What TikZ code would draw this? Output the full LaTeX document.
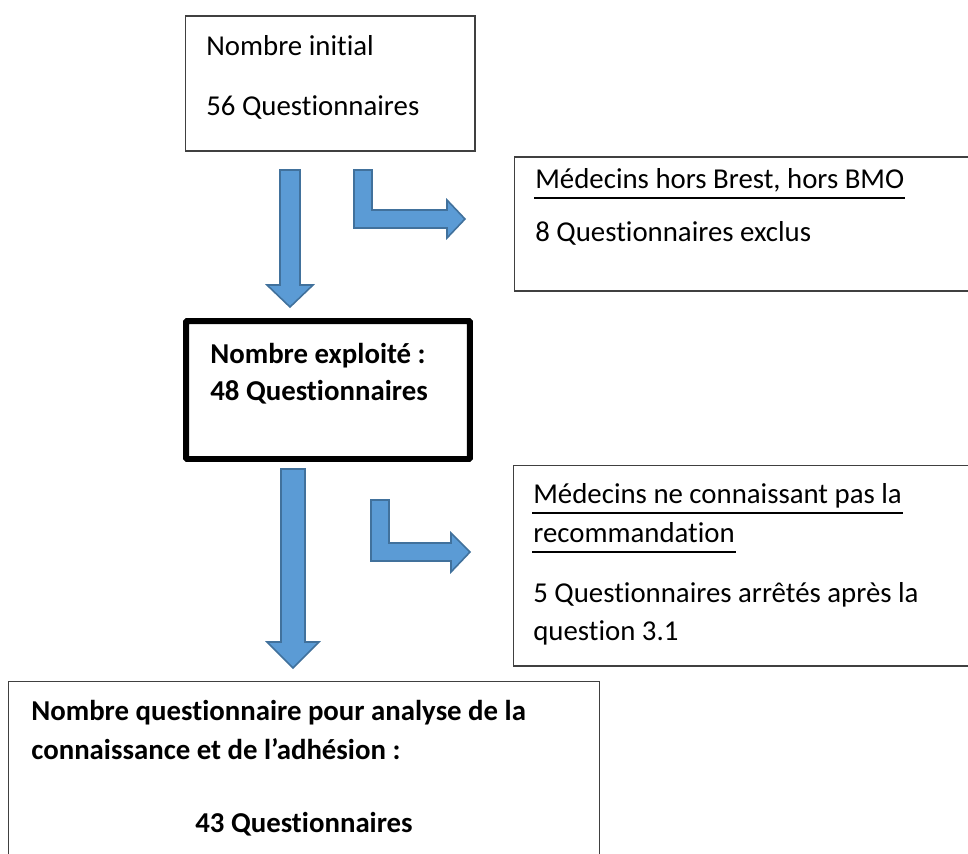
\documentclass[tikz,border=0pt]{standalone}
\usepackage{fontspec}
\setmainfont{Carlito}[Ligatures=NoCommon]
\usetikzlibrary{positioning}
\definecolor{arrowfill}{HTML}{5B9BD5}
\definecolor{arrowline}{HTML}{41719C}
\tikzset{text box/.style={draw=black!75, line width=0.6pt, inner sep=0pt, outer sep=0pt},
  bold box/.style={draw=black, line width=3.4pt, inner sep=0pt, outer sep=0pt, rounded corners=0.6pt},
  line text/.style={anchor=base west, inner sep=0pt, font=\fontsize{16.4}{20}\selectfont},
  under line/.style={line width=0.8pt, shorten >=-0.5pt, shorten <=-0.5pt},
  block arrow/.style={fill=arrowfill, draw=arrowline, line width=0.9pt, line join=miter},}

\begin{document}
\begin{tikzpicture}[x=0.02cm,y=-0.02cm]
      \useasboundingbox (0,0) rectangle (968,853);
      \clip (0,0) rectangle (968,853);

      % boxes
      \node[text box, minimum width=5.8cm, minimum height=2.7cm] (init) at (330,83.5) {};
      \node[text box, minimum width=9.72cm, minimum height=2.68cm] (excl) at (757,224) {};
      \node[bold box, minimum width=5.68cm, minimum height=2.76cm] (used) at (328,390) {};
      \node[text box, minimum width=9.74cm, minimum height=4.02cm] (stop) at (756.5,565.5) {};
      \node[text box, minimum width=11.84cm, minimum height=4.38cm] (final) at (304,790.5) {};

      % texts
      \node[line text] (init1) at (206,55) {Nombre initial};
      \node[line text] (init2) at (206,115) {56 Questionnaires};
      \node[line text] (excl1) at (535,188) {Médecins hors Brest, hors BMO};
      \node[line text] (excl2) at (535,241) {8 Questionnaires exclus};
      \node[line text] (used1) at (210,363) {\bfseries Nombre exploité :};
      \node[line text] (used2) at (210,400) {\bfseries 48 Questionnaires};
      \node[line text] (stop1) at (533,503) {Médecins ne connaissant pas la};
      \node[line text] (stop2) at (533,542) {recommandation};
      \node[line text] (stop3) at (533,602) {5 Questionnaires arrêtés après la};
      \node[line text] (stop4) at (533,640) {question 3.1};
      \node[line text] (final1) at (31,720) {\bfseries Nombre questionnaire pour analyse de la};
      \node[line text] (final2) at (31,759) {\bfseries connaissance et de l’adhésion :};
      \node[line text, anchor=base] (final3) at (304,832) {\bfseries 43 Questionnaires};

      % underlines
      \foreach \t in {excl1,stop1,stop2}
        \draw[under line] ([yshift=-0.2cm]\t.base west) -- ([yshift=-0.2cm]\t.base east);

      % arrows
      \draw[block arrow] (280,170) -- (300,170) -- (300,285) -- (313,285) -- (290,307)
        -- (267,285) -- (280,285) -- cycle;
      \draw[block arrow] (354,170) -- (372,170) -- (372,210) -- (447,210) -- (447,200)
        -- (465,219) -- (447,238) -- (447,228) -- (354,228) -- cycle;
      \draw[block arrow] (281,469) -- (305,469) -- (305,642) -- (319,642) -- (293,668)
        -- (267,642) -- (281,642) -- cycle;
      \draw[block arrow] (371,500) -- (389,500) -- (389,543) -- (451,543) -- (451,533)
        -- (470,552) -- (451,572) -- (451,561) -- (371,561) -- cycle;
\end{tikzpicture}
\end{document}
